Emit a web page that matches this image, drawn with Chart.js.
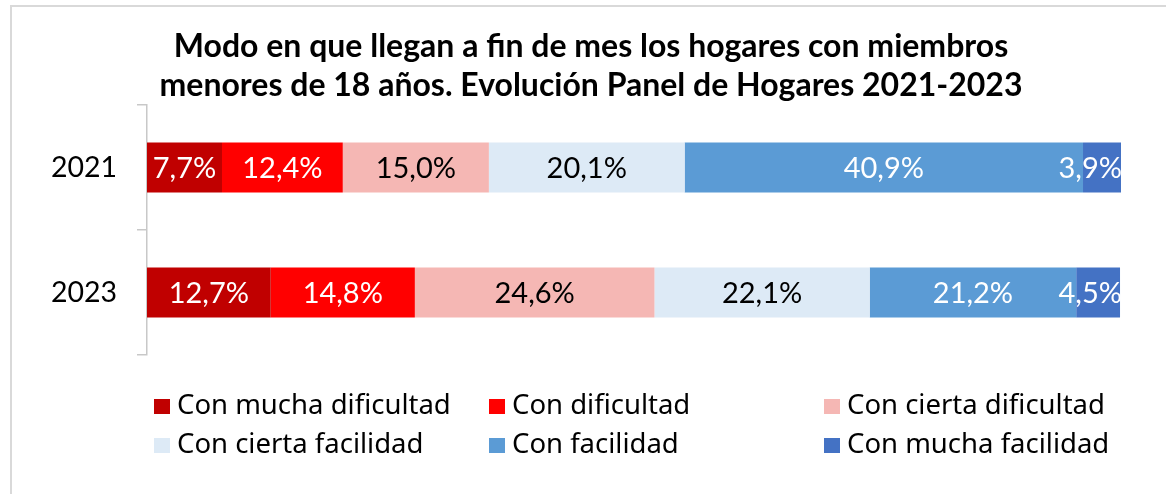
<!DOCTYPE html>
<html>
<head>
<meta charset="utf-8">
<script src="https://cdn.jsdelivr.net/npm/chart.js@4"></script>
<style>
  html, body { margin: 0; padding: 0; background: #fff; }
  body { width: 1166px; height: 494px; overflow: hidden; position: relative; }
  #frame { position: absolute; left: 10px; top: 5px; width: 1200px; height: 600px; border: 2px solid #d9d9d9; }
  #wrap { position: absolute; left: 11px; top: 6px; width: 1164px; height: 488px; }
  #legend { position: absolute; left: 154px; top: 386px; width: 1010px; font-family: "Noto Sans", sans-serif; font-size: 27.5px; color: #000; }
  .item { position: absolute; white-space: nowrap; height: 36px; line-height: 36px; }
  .box { display: inline-block; width: 16px; height: 15px; margin-right: 7px; vertical-align: 0px; }
</style>
</head>
<body>
<div id="frame"></div>
<div id="wrap"><canvas id="chart"></canvas></div>
<div id="legend"></div>
<script>
const years = ["2021", "2023"];
const seriesNames = ["Con mucha dificultad", "Con dificultad", "Con cierta dificultad",
  "Con cierta facilidad", "Con facilidad", "Con mucha facilidad"];
const muchaDificultad = [7.7, 12.7];
const dificultad = [12.4, 14.8];
const ciertaDificultad = [15.0, 24.6];
const ciertaFacilidad = [20.1, 22.1];
const facilidad = [40.9, 21.2];
const muchaFacilidad = [3.9, 4.5];
const seriesValues = [muchaDificultad, dificultad, ciertaDificultad, ciertaFacilidad, facilidad, muchaFacilidad];
const colors = ["#C00000", "#FF0000", "#F5B7B4", "#DDEAF6", "#5B9BD5", "#4472C4"];
const labelColors = ["#fff", "#fff", "#000", "#000", "#fff", "#fff"];

function fmt(v) {
  return v.toFixed(1).replace(".", ",") + "%";
}

// etiquetas dentro de cada segmento
const segLabels = {
  id: "segLabels",
  afterDatasetsDraw(chart) {
    const ctx = chart.ctx;
    const area = chart.chartArea;
    ctx.save();
    ctx.font = "29px Lato";
    ctx.textBaseline = "middle";
    ctx.textAlign = "left";
    chart.data.datasets.forEach(function (ds, i) {
      const meta = chart.getDatasetMeta(i);
      meta.data.forEach(function (bar, j) {
        const txt = fmt(ds.data[j]);
        const w = ctx.measureText(txt).width;
        let x = (bar.x + bar.base) / 2 - w / 2;
        if (x + w > area.right + 1) x = area.right + 1 - w;
        ctx.fillStyle = labelColors[i];
        ctx.fillText(txt, x, bar.y + 1);
      });
    });
    ctx.restore();
  }
};

const ctx = document.getElementById("chart").getContext("2d");
new Chart(ctx, {
  type: "bar",
  data: {
    labels: years,
    datasets: seriesNames.map(function (name, i) {
      return {
        label: name,
        data: seriesValues[i],
        backgroundColor: colors[i],
        borderWidth: 0,
        categoryPercentage: 1,
        barPercentage: 0.4
      };
    })
  },
  options: {
    indexAxis: "y",
    responsive: true,
    maintainAspectRatio: false,
    animation: false,
    layout: { padding: { left: 10, right: 14, top: 0, bottom: 139 } },
    scales: {
      x: { stacked: true, min: 0, max: 100, display: false },
      y: {
        stacked: true,
        afterFit: function (s) { s.width = 126; },
        border: { display: true, color: "#c8c8c8", width: 1.5 },
        grid: { display: true, offset: true, drawOnChartArea: false, drawTicks: true, tickLength: 10, color: "#c8c8c8", lineWidth: 1.5 },
        ticks: { color: "#000", padding: 20, font: { family: "Lato", size: 28.5 } }
      },
      // margen derecho vacío
      yRight: {
        type: "category",
        position: "right",
        afterFit: function (s) { s.width = 40; },
        grid: { display: false },
        border: { display: false },
        ticks: { display: false }
      }
    },
    plugins: {
      legend: { display: false },
      tooltip: { enabled: false },
      title: {
        display: true,
        text: ["Modo en que llegan a fin de mes los hogares con miembros",
               "menores de 18 años. Evolución Panel de Hogares 2021-2023"],
        color: "#000",
        font: { family: "Lato", size: 32, weight: "bold", lineHeight: 1.22 },
        padding: { top: 21, bottom: 0 }
      }
    }
  },
  plugins: [segLabels]
});

// leyenda en tres columnas
const legend = document.getElementById("legend");
seriesNames.forEach(function (name, i) {
  const item = document.createElement("div");
  item.className = "item";
  item.style.left = (i % 3) * 335 + "px";
  item.style.top = Math.floor(i / 3) * 39 + "px";
  item.innerHTML = '<span class="box" style="background:' + colors[i] + '"></span>' + name;
  legend.appendChild(item);
});
</script>
</body>
</html>
